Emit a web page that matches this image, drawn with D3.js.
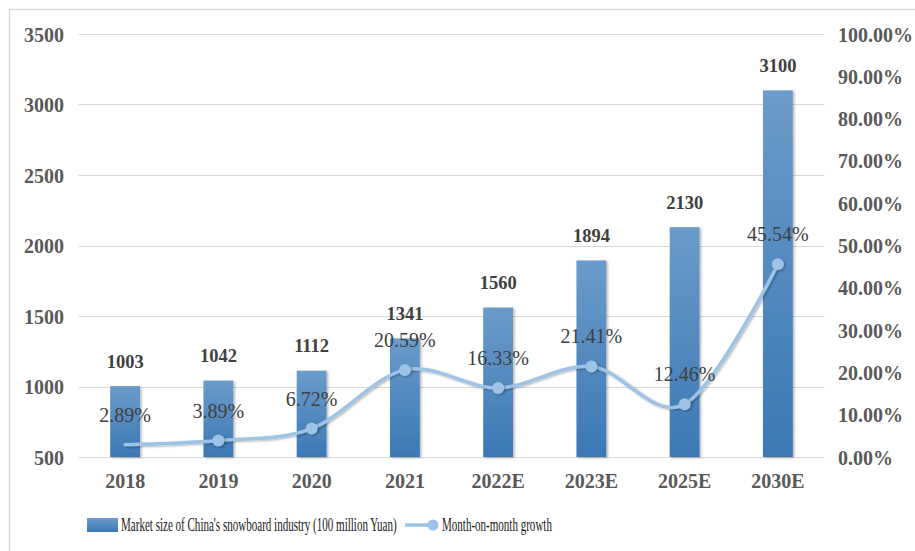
<!DOCTYPE html>
<html>
<head>
<meta charset="utf-8">
<script src="https://cdn.jsdelivr.net/npm/d3@7"></script>
<style>
  html, body { margin: 0; padding: 0; background: #fff; }
  svg { display: block; }
  svg text { font-family: "Liberation Serif", "Times New Roman", serif; }
</style>
</head>
<body>
<svg id="chart" width="915" height="551"></svg>
<script>
const categories = ["2018", "2019", "2020", "2021", "2022E", "2023E", "2025E", "2030E"];
const marketSize = [1003, 1042, 1112, 1341, 1560, 1894, 2130, 3100];
const growth = [2.89, 3.89, 6.72, 20.59, 16.33, 21.41, 12.46, 45.54];
const leftTicks = [500, 1000, 1500, 2000, 2500, 3000, 3500];
const rightTicks = [0, 10, 20, 30, 40, 50, 60, 70, 80, 90, 100];
const barLegend = "Market size of China's snowboard industry (100 million Yuan)";
const lineLegend = "Month-on-month growth";

const svg = d3.select("#chart");
const W = 915, H = 551;
const plot = { left: 78.5, right: 824.5, top: 34, bottom: 457 };

// frame
svg.append("path")
  .attr("d", `M9.5,${H} L9.5,9.5 L${W},9.5`)
  .attr("fill", "none").attr("stroke", "#d9d9d9").attr("stroke-width", 1.5);

const defs = svg.append("defs");
const grad = defs.append("linearGradient").attr("id", "barGrad")
  .attr("x1", 0).attr("y1", 0).attr("x2", 0).attr("y2", 1);
grad.append("stop").attr("offset", "0%").attr("stop-color", "#6b9bca");
grad.append("stop").attr("offset", "100%").attr("stop-color", "#3b78b5");
const f = defs.append("filter").attr("id", "shadow").attr("x", "-30%").attr("y", "-10%").attr("width", "160%").attr("height", "130%");
f.append("feDropShadow").attr("dx", 1.5).attr("dy", 1).attr("stdDeviation", 1.2)
  .attr("flood-color", "#000").attr("flood-opacity", 0.3);

const x = d3.scaleBand().domain(categories).range([plot.left, plot.right]).paddingInner(0.68).paddingOuter(0.34);
const xc = d => x(d) + x.bandwidth() / 2;
const yL = d3.scaleLinear().domain([500, 3500]).range([plot.bottom, plot.top]);
const yR = d3.scaleLinear().domain([0, 100]).range([plot.bottom, plot.top]);

// gridlines
svg.append("g").selectAll("line").data(leftTicks).join("line")
  .attr("x1", plot.left).attr("x2", plot.right)
  .attr("y1", d => Math.round(yL(d)) + 0.5).attr("y2", d => Math.round(yL(d)) + 0.5)
  .attr("stroke", "#d9d9d9").attr("stroke-width", 1.2);

function styleAxis(g) {
  g.select(".domain").remove();
  g.attr("font-family", null).attr("font-size", null);
  g.selectAll("text").attr("font-size", 20).attr("font-weight", "bold").attr("fill", "#595959");
}

// left axis
const axL = svg.append("g").attr("transform", `translate(64,0)`)
  .call(d3.axisLeft(yL).tickValues(leftTicks).tickSize(0).tickPadding(0).tickFormat(d3.format("d")));
styleAxis(axL);
axL.selectAll("text").attr("dy", "0.35em");

// right axis
const axR = svg.append("g").attr("transform", `translate(838,0)`)
  .call(d3.axisRight(yR).tickValues(rightTicks).tickSize(0).tickPadding(0).tickFormat(d => d.toFixed(2) + "%"));
styleAxis(axR);
axR.selectAll("text").attr("dy", "0.35em");

// x axis labels
const axB = svg.append("g").attr("transform", `translate(0,${plot.bottom})`)
  .call(d3.axisBottom(x).tickSize(0).tickPadding(0));
styleAxis(axB);
axB.selectAll("text").attr("dy", null).attr("y", 31);

// bars
svg.append("g").selectAll("rect").data(marketSize).join("rect")
  .attr("x", (d, i) => x(categories[i]))
  .attr("y", d => yL(d))
  .attr("width", x.bandwidth())
  .attr("height", d => plot.bottom - yL(d))
  .attr("fill", "url(#barGrad)")
  .attr("filter", "url(#shadow)");

// bar labels
svg.append("g").selectAll("text").data(marketSize).join("text")
  .attr("x", (d, i) => xc(categories[i]))
  .attr("y", d => yL(d) - 18.5)
  .attr("text-anchor", "middle")
  .attr("font-size", 18.5).attr("font-weight", "bold").attr("fill", "#404040")
  .text(d => d);

// line
const line = d3.line()
  .x((d, i) => xc(categories[i]))
  .y(d => yR(d))
  .curve(d3.curveCardinal.tension(0));
svg.append("path").datum(growth)
  .attr("d", line)
  .attr("fill", "none").attr("stroke", "#9dc3e6").attr("stroke-width", 3.5)
  .attr("stroke-linecap", "round")
  .attr("filter", "url(#shadow)");

const pts = growth.map((v, i) => ({ v, c: categories[i] })).slice(1);
svg.append("g").selectAll("circle").data(pts).join("circle")
  .attr("cx", d => xc(d.c))
  .attr("cy", d => yR(d.v))
  .attr("r", 6)
  .attr("fill", "#9dc3e6")
  .attr("filter", "url(#shadow)");

// growth labels
svg.append("g").selectAll("text").data(growth).join("text")
  .attr("x", (d, i) => xc(categories[i]))
  .attr("y", d => yR(d) - 23)
  .attr("text-anchor", "middle")
  .attr("font-size", 20).attr("fill", "#404040")
  .text(d => d.toFixed(2) + "%");

// legend
const lg = svg.append("g");
lg.append("rect").attr("x", 87).attr("y", 518).attr("width", 31).attr("height", 14)
  .attr("fill", "url(#barGrad)");
function squeezedText(xPos, yPos, str, targetW) {
  const t = lg.append("text").attr("font-size", 18.5).attr("fill", "#1a1a1a").text(str);
  const w = t.node().getComputedTextLength();
  const s = w > 0 ? targetW / w : 1;
  t.attr("transform", `translate(${xPos},${yPos}) scale(${s},1)`);
}
squeezedText(121, 531, barLegend, 276);
lg.append("line").attr("x1", 405).attr("x2", 433).attr("y1", 525).attr("y2", 525)
  .attr("stroke", "#9dc3e6").attr("stroke-width", 3.5);
lg.append("circle").attr("cx", 433).attr("cy", 525).attr("r", 5.5).attr("fill", "#9dc3e6");
squeezedText(442, 531, lineLegend, 110);
</script>
</body>
</html>
